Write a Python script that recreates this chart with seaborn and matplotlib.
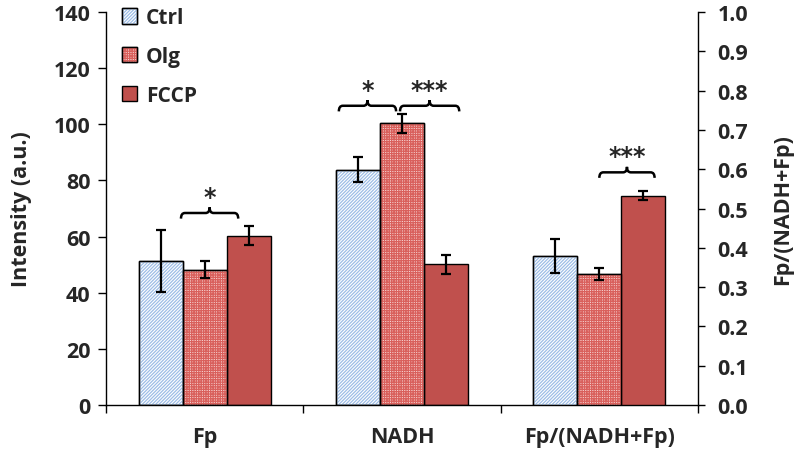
import matplotlib
matplotlib.use("Agg")
import matplotlib.pyplot as plt
import seaborn as sns
import pandas as pd
from matplotlib.patches import Patch, Rectangle, PathPatch
from matplotlib.path import Path
from matplotlib.legend_handler import HandlerTuple

# data
groups = ["Fp", "NADH", "Fp/(NADH+Fp)"]
conditions = ["Ctrl", "Olg", "FCCP"]
fp_mean = [51.2, 48.2, 60.3]
fp_err = [11.1, 3.1, 3.3]
nadh_mean = [83.8, 100.3, 50.1]
nadh_err = [4.5, 3.3, 3.5]
ratio_mean = [0.379, 0.333, 0.533]
ratio_err = [0.043, 0.015, 0.011]

face = {"Ctrl": "white", "Olg": "#f6d4d3", "FCCP": "#c0504d"}
hatch = {"Ctrl": "//////////", "Olg": "+++++++", "FCCP": None}
hatch_col = {"Ctrl": "#9dbde6", "Olg": "#d9605c", "FCCP": None}

sns.set_theme(style="white")
plt.rcParams["font.family"] = ["Open Sans", "DejaVu Sans"]
plt.rcParams["font.weight"] = "bold"
plt.rcParams["hatch.linewidth"] = 0.9

df_int = pd.DataFrame({
    "group": [groups[0]] * 3 + [groups[1]] * 3,
    "cond": conditions * 2,
    "value": fp_mean + nadh_mean,
})
df_ratio = pd.DataFrame({"group": [groups[2]] * 3, "cond": conditions, "value": ratio_mean})
errs = {groups[0]: fp_err, groups[1]: nadh_err, groups[2]: ratio_err}

fig = plt.figure(figsize=(8, 4.52), dpi=100)
ax = fig.add_axes([0.1325, 0.1018, 0.74, 0.8694])
ax2 = ax.twinx()


def draw(axis, data):
    sns.barplot(data=data, x="group", y="value", hue="cond", order=groups,
                hue_order=conditions, palette=face, width=0.67, errorbar=None,
                saturation=1, edgecolor="black", linewidth=1.0, legend=False, ax=axis)
    for cont, cond in zip(axis.containers, conditions):
        for bar in cont:
            if bar.get_height() == 0:
                continue
            if hatch[cond]:
                axis.add_patch(Rectangle(bar.get_xy(), bar.get_width(), bar.get_height(),
                                         facecolor="none", edgecolor=hatch_col[cond],
                                         hatch=hatch[cond], linewidth=0, zorder=bar.get_zorder() + 0.1))
                axis.add_patch(Rectangle(bar.get_xy(), bar.get_width(), bar.get_height(),
                                         facecolor="none", edgecolor="black",
                                         linewidth=1.0, zorder=bar.get_zorder() + 0.2))
            xc = bar.get_x() + bar.get_width() / 2
            gi = int(round(xc))
            e = errs[groups[gi]][conditions.index(cond)]
            axis.errorbar(xc, bar.get_height(), yerr=e, color="black", lw=1.6,
                          capsize=3.5, capthick=1.6, zorder=5)


draw(ax, df_int)
draw(ax2, df_ratio)

ax.set_xlim(-0.5, 2.5)
ax.set_ylim(0, 140)
ax2.set_ylim(0, 1.0)
ax.set_yticks(range(0, 141, 20))
ax2.set_yticks([i / 10 for i in range(11)])
ax2.set_yticklabels([f"{i / 10:.1f}" for i in range(11)])

fs = 15.5
ax.set_xlabel("")
ax2.set_xlabel("")
ax.set_ylabel("Intensity (a.u.)", fontsize=fs, fontweight="bold", labelpad=16)
ax2.set_ylabel("Fp/(NADH+Fp)", fontsize=fs, fontweight="bold", labelpad=17)

for a in (ax, ax2):
    for s in a.spines.values():
        s.set_color("black")
        s.set_linewidth(1.0)
    a.spines["top"].set_visible(False)
    a.grid(False)
ax.spines["right"].set_visible(False)
ax2.spines["left"].set_visible(False)
ax2.spines["bottom"].set_visible(False)

ax.tick_params(axis="y", direction="out", length=6, width=1, color="black",
               labelsize=fs, pad=5, left=True)
ax2.tick_params(axis="y", direction="out", length=5, width=1, color="black",
                labelsize=fs, pad=9, right=True)
ax.set_xticks([0, 1, 2])
ax.set_xticklabels(groups)
ax.set_xticks([-0.5, 0.5, 1.5, 2.5], minor=True)
ax.tick_params(axis="x", which="major", length=0, labelsize=fs, pad=15)
ax.tick_params(axis="x", which="minor", length=6, width=1, color="black", bottom=True)
for lab in ax.get_xticklabels() + ax.get_yticklabels() + ax2.get_yticklabels():
    lab.set_fontweight("bold")


def brace(axis, x0, x1, y, d, xm=None, r=0.02):
    if xm is None:
        xm = (x0 + x1) / 2
    verts = [(x0, y - d), (x0, y), (x0 + r, y),
             (xm - r, y), (xm, y), (xm, y + d),
             (xm, y), (xm + r, y),
             (x1 - r, y), (x1, y), (x1, y - d)]
    codes = [Path.MOVETO, Path.CURVE3, Path.CURVE3,
             Path.LINETO, Path.CURVE3, Path.CURVE3,
             Path.CURVE3, Path.CURVE3,
             Path.LINETO, Path.CURVE3, Path.CURVE3]
    axis.add_patch(PathPatch(Path(verts, codes), facecolor="none",
                             edgecolor="black", lw=1.8, zorder=6))


star_kw = dict(ha="center", va="bottom", fontsize=17, fontweight="bold",
               family="DejaVu Sans")
brace(ax, -0.12, 0.17, 68.4, 2.0)
ax.text(0.025, 70.0, "*", **star_kw)
brace(ax, 1 - 0.32, 1 - 0.03, 106.6, 2.0)
ax.text(1 - 0.175, 108.0, "*", **star_kw)
brace(ax, 1 - 0.01, 1 + 0.29, 106.6, 2.0)
ax.text(1 + 0.14, 108.0, "***", **star_kw)
brace(ax2, 2.0, 2.28, 0.592, 0.014)
ax2.text(2.14, 0.603, "***", **star_kw)

handles = []
for cond in conditions:
    base = Patch(facecolor=face[cond], edgecolor="black", linewidth=1.0)
    if hatch[cond]:
        over = Patch(facecolor="none", edgecolor=hatch_col[cond], hatch=hatch[cond], linewidth=0)
        edge = Patch(facecolor="none", edgecolor="black", linewidth=1.0)
        handles.append((base, over, edge))
    else:
        handles.append(base)
ax2.legend(handles, conditions, handler_map={tuple: HandlerTuple(ndivide=1)},
           loc="upper left", bbox_to_anchor=(-0.005, 1.06), frameon=False,
           handlelength=0.75, handleheight=0.75, handletextpad=0.4,
           labelspacing=0.85, prop={"weight": "bold", "size": 15})

fig.savefig("out.png", dpi=100)
